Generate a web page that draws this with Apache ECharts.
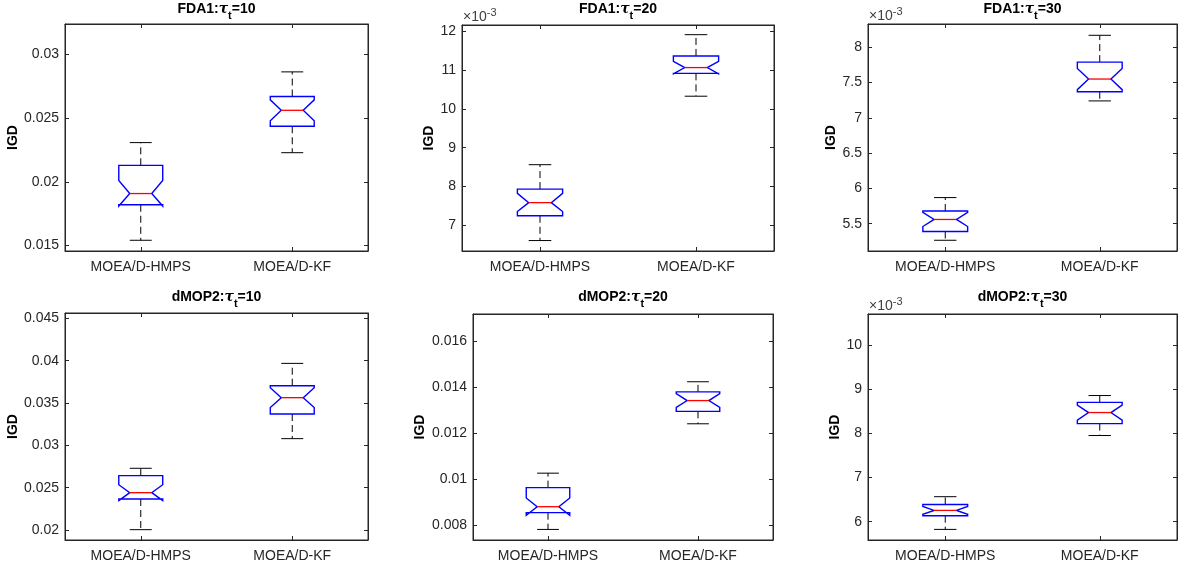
<!DOCTYPE html>
<html><head><meta charset="utf-8">
<script src="https://cdn.jsdelivr.net/npm/echarts@6/dist/echarts.min.js"></script>
<style>html,body{margin:0;padding:0;background:#fff}#c{width:1183px;height:570px}</style>
</head><body><div id="c"></div>
<script>
// ---------- DATA ----------
const categories = ['MOEA/D-HMPS', 'MOEA/D-KF'];
const problems = ['FDA1', 'FDA1', 'FDA1', 'dMOP2', 'dMOP2', 'dMOP2'];
const tauValues = ['10', '20', '30', '10', '20', '30'];
// each row: one panel, [HMPS, KF]
const lowerWhisker = [[0.01542, 0.02228], [0.00660, 0.01033], [0.005265, 0.00724], [0.02004, 0.03079], [0.00781, 0.01241], [0.005826, 0.00795]];
const q1 =           [[0.01820, 0.02435], [0.00724, 0.01092], [0.00539, 0.00737], [0.02366, 0.03370], [0.00854, 0.01295], [0.006136, 0.00822]];
const notchLow =     [[0.01810, 0.02478], [0.00735, 0.01091], [0.00546, 0.00740], [0.02348, 0.03446], [0.00843, 0.01312], [0.006167, 0.00830]];
const median =       [[0.01908, 0.02560], [0.00758, 0.01107], [0.00556, 0.00755], [0.02441, 0.03563], [0.00880, 0.01342], [0.006256, 0.00847]];
const notchHigh =    [[0.02010, 0.02642], [0.00782, 0.01123], [0.00566, 0.00770], [0.02535, 0.03680], [0.00918, 0.01372], [0.006345, 0.00864]];
const q3 =           [[0.02129, 0.02668], [0.00793, 0.01137], [0.00568, 0.00779], [0.02642, 0.03704], [0.00963, 0.01380], [0.00639, 0.00870]];
const upperWhisker = [[0.02307, 0.02861], [0.00856, 0.01192], [0.00587, 0.00817], [0.02729, 0.03968], [0.01026, 0.01424], [0.006566, 0.008855]];
// axis ranges and ticks
const yMin = [0.01458, 0.00633, 0.005113, 0.01882, 0.00735, 0.005586];
const yMax = [0.03236, 0.01217, 0.00833, 0.04563, 0.01719, 0.01070];
const yTicks = [
  [0.015, 0.02, 0.025, 0.03],
  [0.007, 0.008, 0.009, 0.010, 0.011, 0.012],
  [0.0055, 0.006, 0.0065, 0.007, 0.0075, 0.008],
  [0.02, 0.025, 0.03, 0.035, 0.04, 0.045],
  [0.008, 0.010, 0.012, 0.014, 0.016],
  [0.006, 0.007, 0.008, 0.009, 0.010]
];
const yTickLabels = [
  ['0.015', '0.02', '0.025', '0.03'],
  ['7', '8', '9', '10', '11', '12'],
  ['5.5', '6', '6.5', '7', '7.5', '8'],
  ['0.02', '0.025', '0.03', '0.035', '0.04', '0.045'],
  ['0.008', '0.01', '0.012', '0.014', '0.016'],
  ['6', '7', '8', '9', '10']
];
const exponentLabels = [null, '-3', '-3', null, null, '-3'];
const yAxisName = 'IGD';

// ---------- LAYOUT ----------
const FONT = '"Liberation Sans", Arial, Helvetica, sans-serif';
const AX = '#262626';
const rects = [[65, 24, 303, 227], [462, 25, 312, 226], [868, 24, 309, 227], [65, 313, 303, 227], [473, 314, 300, 226], [868, 314, 309, 226]];
const nameGaps = [43.5, 25.5, 29.5, 43.5, 45.5, 25.5];
const titleTops = [2, 2, 2, 290, 290, 290];

function renderBox(params, api) {
  const x = api.value(0);
  const lw = api.value(1), a = api.value(2), nl = api.value(3), md = api.value(4), nh = api.value(5), b = api.value(6), uw = api.value(7);
  const band = api.size([1, 0])[0];
  const half = band * 0.145;
  const inner = half / 2;
  const cx = api.coord([x, md])[0];
  const Y = v => api.coord([x, v])[1];
  const L = cx - half, R = cx + half, iL = cx - inner, iR = cx + inner;
  const pts = [[L, Y(b)], [R, Y(b)], [R, Y(nh)], [iR, Y(md)], [R, Y(nl)], [R, Y(a)], [L, Y(a)], [L, Y(nl)], [iL, Y(md)], [L, Y(nh)]];
  const dash = {stroke: '#000', lineWidth: 1, lineDash: [7, 4]};
  const solid = {stroke: '#000', lineWidth: 1};
  return {type: 'group', children: [
    {type: 'line', shape: {x1: cx, y1: Y(b), x2: cx, y2: Y(uw)}, style: dash},
    {type: 'line', shape: {x1: cx, y1: Y(a), x2: cx, y2: Y(lw)}, style: dash},
    {type: 'line', shape: {x1: iL, y1: Y(uw), x2: iR, y2: Y(uw)}, style: solid},
    {type: 'line', shape: {x1: iL, y1: Y(lw), x2: iR, y2: Y(lw)}, style: solid},
    {type: 'polygon', shape: {points: pts}, style: {fill: 'none', stroke: '#0000ff', lineWidth: 1.4}},
    {type: 'line', shape: {x1: iL, y1: Y(md), x2: iR, y2: Y(md)}, style: {stroke: '#ff0000', lineWidth: 1.3}}
  ]};
}

const option = {animation: false, backgroundColor: '#fff', grid: [], xAxis: [], yAxis: [], series: [], title: [], graphic: []};
rects.forEach((r, i) => {
  option.grid.push({left: r[0], top: r[1], width: r[2], height: r[3], show: true, borderColor: AX, borderWidth: 1, backgroundColor: 'transparent'});
  const xBase = {type: 'category', data: categories, gridIndex: i, boundaryGap: true,
    axisLine: {show: true, lineStyle: {color: AX, width: 1}},
    axisTick: {show: true, inside: true, alignWithLabel: true, length: 4, lineStyle: {color: AX}},
    splitLine: {show: false}};
  option.xAxis.push(Object.assign({}, xBase, {position: 'bottom',
    axisLabel: {show: true, color: AX, fontSize: 14, fontFamily: FONT, margin: 9}}));
  option.xAxis.push(Object.assign({}, xBase, {position: 'top', axisLabel: {show: false}}));
  const yBase = {type: 'value', gridIndex: i, min: yMin[i], max: yMax[i], splitLine: {show: false},
    axisLine: {show: true, lineStyle: {color: AX, width: 1}},
    axisTick: {show: true, inside: true, length: 4, customValues: yTicks[i], lineStyle: {color: AX}}};
  const labs = yTickLabels[i], ticks = yTicks[i];
  option.yAxis.push(Object.assign({}, yBase, {position: 'left', name: yAxisName, nameLocation: 'middle', nameGap: nameGaps[i],
    nameTextStyle: {fontFamily: FONT, fontWeight: 'bold', fontSize: 14, color: '#000'},
    axisLabel: {show: true, customValues: ticks, color: AX, fontSize: 14, fontFamily: FONT, margin: 6,
      formatter: v => { const k = ticks.findIndex(t => Math.abs(t - v) < 1e-9); return k >= 0 ? labs[k] : ''; }}}));
  option.yAxis.push(Object.assign({}, yBase, {position: 'right', axisLabel: {show: false}}));
  option.series.push({type: 'custom', xAxisIndex: 2 * i, yAxisIndex: 2 * i, renderItem: renderBox,
    encode: {x: 0, y: [1, 2, 3, 4, 5, 6, 7]},
    data: [0, 1].map(k => [k, lowerWhisker[i][k], q1[i][k], notchLow[i][k], median[i][k], notchHigh[i][k], q3[i][k], upperWhisker[i][k]])});
  option.title.push({
    text: '{b|' + problems[i] + ':}{g|τ}{s|t}{b|=' + tauValues[i] + '}',
    left: r[0] + r[2] / 2, top: titleTops[i], textAlign: 'center', padding: 0,
    textStyle: {rich: {
      b: {fontFamily: FONT, fontWeight: 'bold', fontSize: 14, color: '#000', verticalAlign: 'top', lineHeight: 17},
      g: {fontFamily: '"DejaVu Serif", serif', fontStyle: 'italic', fontSize: 14, color: '#000', verticalAlign: 'top', lineHeight: 17},
      s: {fontFamily: FONT, fontWeight: 'bold', fontSize: 11, color: '#000', verticalAlign: 'top', lineHeight: 13, padding: [8, 0, 0, 0]}
    }}
  });
  if (exponentLabels[i]) {
    option.graphic.push({type: 'text', left: r[0] + 1, top: r[1] - 18,
      style: {text: '{a|×10}{e|' + exponentLabels[i] + '}', rich: {
        a: {fontFamily: FONT, fontSize: 14, fill: '#404040', verticalAlign: 'top', padding: [3, 0, 0, 0]},
        e: {fontFamily: FONT, fontSize: 11, fill: '#404040', verticalAlign: 'top'}
      }}});
  }
});
const chart = echarts.init(document.getElementById('c'), null, {renderer: 'canvas'});
chart.setOption(option);
</script></body></html>
